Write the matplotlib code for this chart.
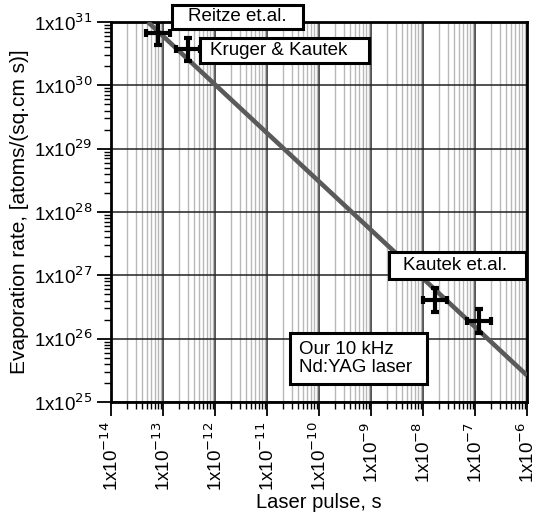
import numpy as np
import matplotlib.pyplot as plt
from matplotlib.patches import Rectangle
from matplotlib.ticker import LogLocator, FixedLocator, NullFormatter

plt.rcParams['font.family'] = ['Liberation Sans', 'DejaVu Sans']

# data points
pulse = [8.0e-14, 3.0e-13, 1.7e-8, 1.2e-7]
rate = [6.7e30, 3.7e30, 4.1e26, 1.9e26]
xerr_fac = [1.68, 1.68, 1.68, 1.68]
yerr_fac = [1.53, 1.53, 1.53, 1.53]

# fitted trend line (end points)
fit_x = [10**-13.29, 1e-6]
fit_y = [1e31, 10**25.42]

labels = ['Reitze et.al.', 'Kruger & Kautek', 'Kautek et.al.', 'Our 10 kHz\nNd:YAG laser']
# text anchor (log10 x, log10 y, ha) and box (log10 x0, x1, y0, y1)
label_txt = [(-11.567, 31.08, 'center'), (-12.096, 30.553, 'left'),
             (-7.385, 27.156, 'center'), (-10.385, 25.687, 'left')]
label_box = [(-12.827, -10.308, 30.893, 31.272), (-12.288, -9.038, 30.355, 30.750),
             (-8.654, -6.019, 26.943, 27.370), (-10.558, -7.923, 25.284, 26.090)]

fig = plt.figure(figsize=(5.41, 5.17), dpi=100)
ax = fig.add_axes([111 / 541, 115 / 517, 416 / 541, 380 / 517])
ax.set_xscale('log')
ax.set_yscale('log')
ax.set_xlim(1e-14, 1e-6)
ax.set_ylim(1e25, 1e31)

ax.xaxis.set_major_locator(FixedLocator([10.0**k for k in range(-14, -5)]))
ax.xaxis.set_minor_locator(LogLocator(base=10, subs=np.arange(2, 10), numticks=50))
ax.yaxis.set_major_locator(FixedLocator([10.0**k for k in range(25, 32)]))
ax.yaxis.set_minor_locator(LogLocator(base=10, subs=np.arange(2, 10), numticks=50))
ax.xaxis.set_minor_formatter(NullFormatter())
ax.yaxis.set_minor_formatter(NullFormatter())
ax.set_xticklabels(['1x10$^{\\mathrm{-}%d}$' % k for k in range(14, 5, -1)], rotation=90)
ax.set_yticklabels(['1x10$^{%d}$' % k for k in range(25, 32)])

ax.grid(which='minor', axis='x', color='#b8b8b8', linewidth=1.0)
ax.grid(which='major', color='#222222', linewidth=1.1)
ax.set_axisbelow(True)
for s in ax.spines.values():
    s.set_linewidth(2)
ax.tick_params(which='major', direction='out', length=10, width=1.3, labelsize=13.5, colors='black')
ax.tick_params(which='minor', direction='out', length=5, width=1.0)
ax.tick_params(axis='x', which='major', pad=4)

ax.plot(fit_x, fit_y, color='#5a5a5a', linewidth=3.3, solid_capstyle='butt', zorder=3)

p = np.array(pulse)
r = np.array(rate)
xf = np.array(xerr_fac)
yf = np.array(yerr_fac)
ax.errorbar(p, r, xerr=[p - p / xf, p * xf - p], yerr=[r - r / yf, r * yf - r],
            fmt='none', ecolor='black', elinewidth=3, capsize=3, capthick=3, zorder=4)

for txt, (tx, ty, ha), (x0, x1, y0, y1) in zip(labels, label_txt, label_box):
    ax.add_patch(Rectangle((10**x0, 10**y0), 10**x1 - 10**x0, 10**y1 - 10**y0,
                           facecolor='white', edgecolor='black', linewidth=2.2,
                           zorder=5, clip_on=False))
    ax.text(10**tx, 10**ty, txt, fontsize=13.5, ha=ha, va='center', zorder=6,
            clip_on=False, linespacing=1.15)

ax.set_xlabel('Laser pulse, s', fontsize=14.5, labelpad=1)
ax.set_ylabel('Evaporation rate, [atoms/(sq.cm s)]', fontsize=15, labelpad=3)

fig.savefig('out.png', dpi=100)
